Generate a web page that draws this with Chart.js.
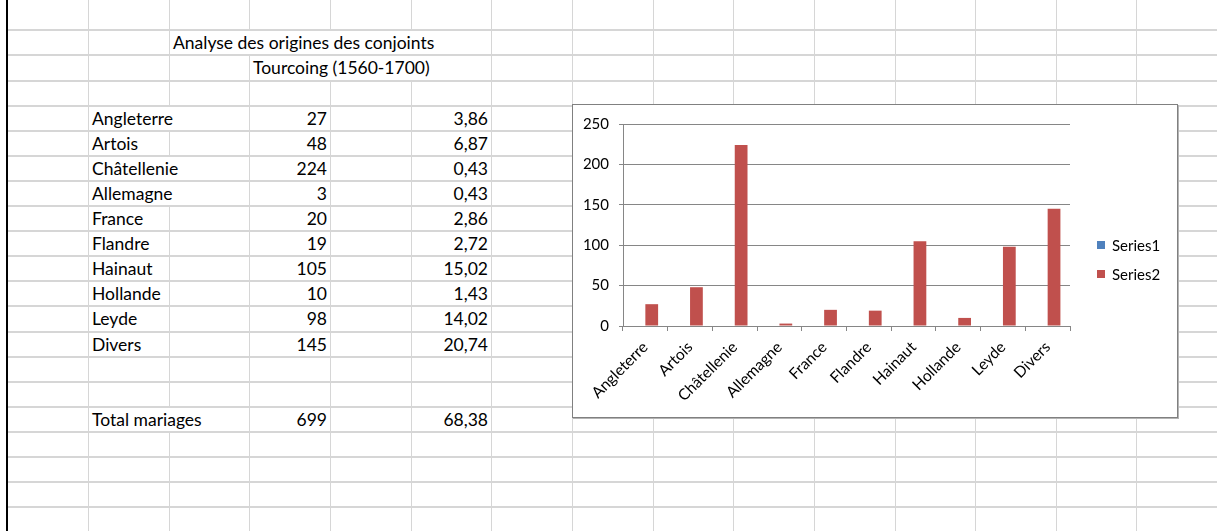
<!DOCTYPE html>
<html>
<head>
<meta charset="utf-8">
<script src="https://cdn.jsdelivr.net/npm/chart.js@4.4.0/dist/chart.umd.min.js"></script>
<style>
    html, body { margin: 0; padding: 0; background: #fff; }
    body { width: 1217px; height: 531px; overflow: hidden; position: relative; font-family: Lato, "Open Sans", sans-serif; }
    .gl { position: absolute; background: #d6d6d6; }
    .cell { position: absolute; background: #fff; color: #000; font-size: 17.5px; white-space: nowrap; box-sizing: border-box; }
    #edge { position: absolute; left: 6px; top: 0; width: 2px; height: 531px; background: #000; }
    #chartBox { position: absolute; left: 572px; top: 104px; width: 604px; height: 312px; border: 1px solid #808080; background: #fff; box-shadow: 1px 1px 0 #b4b4b4; }
    #chartBox canvas { position: absolute; left: 0; top: 0; }
    .leg { position: absolute; font-size: 15px; color: #000; line-height: 18px; }
    .leg i { position: absolute; left: 0; top: 5px; width: 8px; height: 8px; }
    .leg span { position: absolute; left: 15px; top: 0; }
</style>
</head>
<body>
<div id="edge"></div>
<div id="chartBox">
    <canvas id="chart" width="604" height="312"></canvas>
    <div id="legend"></div>
</div>
<script>
// sheet contents
const titleLine1 = 'Analyse des origines des conjoints';
const titleLine2 = 'Tourcoing (1560-1700)';
const regions = ['Angleterre', 'Artois', 'Châtellenie', 'Allemagne', 'France', 'Flandre', 'Hainaut', 'Hollande', 'Leyde', 'Divers'];
const mariages = [27, 48, 224, 3, 20, 19, 105, 10, 98, 145];
const pourcentages = ['3,86', '6,87', '0,43', '0,43', '2,86', '2,72', '15,02', '1,43', '14,02', '20,74'];
const totalLabel = 'Total mariages';
const totalMariages = 699;
const totalPourcentage = '68,38';

// chart series
const series1 = [null, null, null, null, null, null, null, null, null, null];
const series2 = mariages;
const yTicks = { min: 0, max: 250, step: 50 };

// grid geometry
const colX = i => Math.round(88 + 80.65 * i);
const rowY = r => Math.round(29.3 + 25.1 * r);

function line(x, y, w, h) {
    const d = document.createElement('div');
    d.className = 'gl';
    d.style.left = x + 'px'; d.style.top = y + 'px';
    d.style.width = w + 'px'; d.style.height = h + 'px';
    document.body.insertBefore(d, document.getElementById('edge'));
}
for (let c = 0; c <= 14; c++) line(colX(c), 0, 1, 531);
for (let r = 0; r <= 20; r++) line(8, rowY(r), 1217, 2);

// text cell; left-aligned text covers grid lines it overflows
function cell(text, col, row, align) {
    const d = document.createElement('div');
    d.className = 'cell';
    const top = rowY(row) + 2, h = rowY(row + 1) - top;
    d.style.top = top + 'px';
    d.style.height = h + 'px';
    d.style.lineHeight = h + 'px';
    d.textContent = text;
    if (align === 'right') {
        d.style.right = (1217 - colX(col + 1)) + 'px';
        d.style.paddingRight = '3px';
    } else {
        d.style.left = (colX(col) + 1) + 'px';
        d.style.paddingLeft = '3px';
        d.style.paddingRight = '1px';
    }
    document.body.insertBefore(d, document.getElementById('edge'));
}

cell(titleLine1, 1, 0);
cell(titleLine2, 2, 1);
regions.forEach((name, i) => {
    cell(name, 0, 3 + i);
    cell(String(mariages[i]), 2, 3 + i, 'right');
    cell(pourcentages[i], 4, 3 + i, 'right');
});
cell(totalLabel, 0, 15);
cell(String(totalMariages), 2, 15, 'right');
cell(totalPourcentage, 4, 15, 'right');

const axisGrey = '#868686';
const chart = new Chart(document.getElementById('chart'), {
    type: 'bar',
    data: {
        labels: regions,
        datasets: [
            { label: 'Series1', data: series1, backgroundColor: '#4F81BD' },
            { label: 'Series2', data: series2, backgroundColor: '#C0504D' }
        ]
    },
    options: {
        responsive: false,
        animation: false,
        devicePixelRatio: 1,
        categoryPercentage: 0.571,
        barPercentage: 1,
        layout: { padding: { top: 18, right: 107, bottom: 0, left: 0 } },
        plugins: { legend: { display: false }, tooltip: { enabled: false } },
        scales: {
            x: {
                grid: { drawOnChartArea: false, tickLength: 5, color: axisGrey },
                border: { color: axisGrey },
                ticks: { minRotation: 45, maxRotation: 45, autoSkip: false, color: '#000', padding: 7, font: { family: 'Lato', size: 15.5 } },
                afterFit: s => { s.height = 91; }
            },
            y: {
                min: yTicks.min,
                max: yTicks.max,
                grid: { color: axisGrey, tickLength: 4 },
                border: { color: axisGrey },
                ticks: { stepSize: yTicks.step, color: '#000', padding: 10, font: { family: 'Lato', size: 15 } },
                afterFit: s => { s.width = 50; }
            }
        }
    }
});

// legend from the datasets
const legend = document.getElementById('legend');
chart.data.datasets.forEach((ds, i) => {
    const item = document.createElement('div');
    item.className = 'leg';
    item.style.left = '524px';
    item.style.top = (131 + 29 * i) + 'px';
    item.innerHTML = '<i style="background:' + ds.backgroundColor + '"></i><span></span>';
    item.querySelector('span').textContent = ds.label;
    legend.appendChild(item);
});
</script>
</body>
</html>
